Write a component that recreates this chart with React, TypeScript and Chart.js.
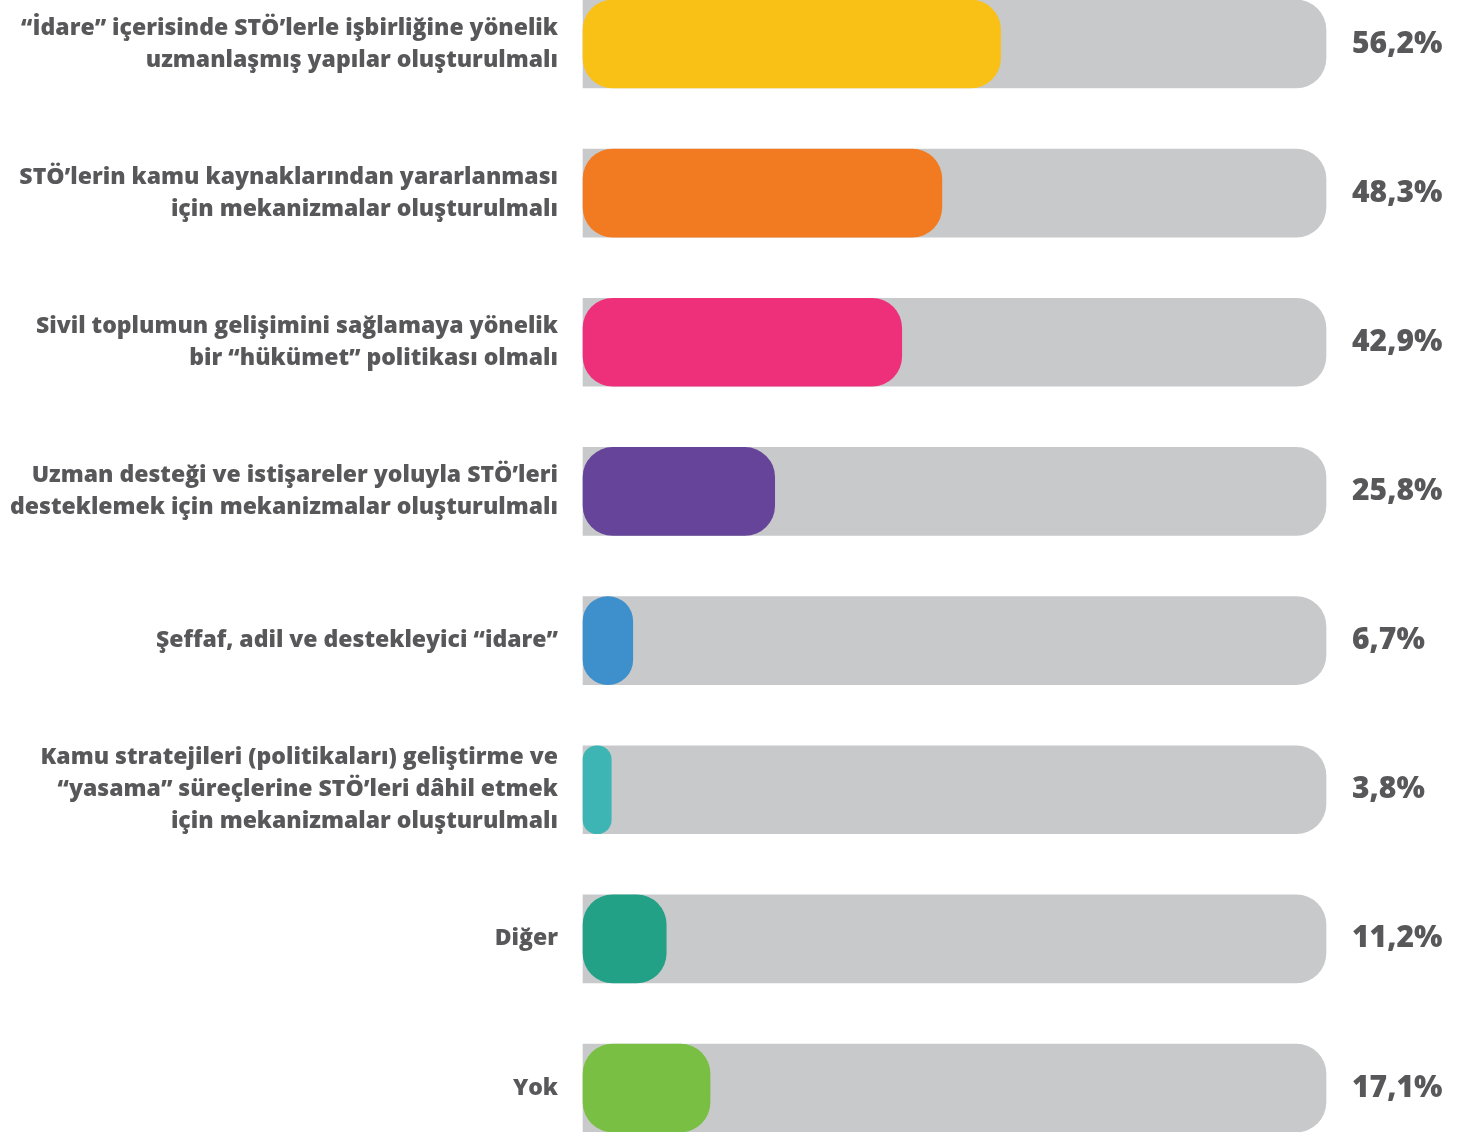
import React, { useEffect, useRef } from "react";
import { Chart, registerables } from "chart.js";

Chart.register(...registerables);

const categories: string[][] = [
  ["“İdare” içerisinde STÖ’lerle işbirliğine yönelik", "uzmanlaşmış yapılar oluşturulmalı"],
  ["STÖ’lerin kamu kaynaklarından yararlanması", "için mekanizmalar oluşturulmalı"],
  ["Sivil toplumun gelişimini sağlamaya yönelik", "bir “hükümet” politikası olmalı"],
  ["Uzman desteği ve istişareler yoluyla STÖ’leri", "desteklemek için mekanizmalar oluşturulmalı"],
  ["Şeffaf, adil ve destekleyici “idare”"],
  ["Kamu stratejileri (politikaları) geliştirme ve", "“yasama” süreçlerine STÖ’leri dâhil etmek", "için mekanizmalar oluşturulmalı"],
  ["Diğer"],
  ["Yok"],
];

const values: number[] = [56.2, 48.3, 42.9, 25.8, 6.7, 3.8, 11.2, 17.1];
const valueLabels: string[] = ["56,2%", "48,3%", "42,9%", "25,8%", "6,7%", "3,8%", "11,2%", "17,1%"];
const trackValues: number[] = [100, 100, 100, 100, 100, 100, 100, 100];

const barColors = ["#F9C116", "#F27B22", "#EE307A", "#664499", "#3D90CC", "#3DB5B4", "#23A187", "#78BF43"];
const trackColor = "#C8C9CB";
const textColor = "#58585A";
const fontFamily = "'Open Sans', Lato, sans-serif";

const valueLabelPlugin = {
  id: "valueLabels",
  afterDatasetsDraw(chart: any) {
    const ctx = chart.ctx;
    const meta = chart.getDatasetMeta(0);
    const xScale = chart.scales.x;
    ctx.save();
    ctx.fillStyle = textColor;
    ctx.font = `800 30px ${fontFamily}`;
    ctx.textAlign = "left";
    ctx.textBaseline = "middle";
    meta.data.forEach((el: any, i: number) => {
      ctx.fillText(valueLabels[i], xScale.getPixelForValue(100) + 26, el.y);
    });
    ctx.restore();
  },
};

export default function App() {
  const ref = useRef<HTMLCanvasElement | null>(null);
  useEffect(() => {
    document.body.style.margin = "0";
    const chart = new Chart(ref.current as HTMLCanvasElement, {
      type: "bar",
      data: {
        labels: categories,
        datasets: [
          {
            data: values,
            backgroundColor: barColors,
            borderRadius: 30,
            borderSkipped: false,
            barThickness: 88,
            grouped: false,
            clip: false,
          } as any,
          {
            data: trackValues,
            backgroundColor: trackColor,
            borderRadius: { topLeft: 0, bottomLeft: 0, topRight: 30, bottomRight: 30 },
            borderSkipped: false,
            barThickness: 88,
            grouped: false,
            clip: false,
          } as any,
        ],
      },
      options: {
        indexAxis: "y",
        animation: false,
        responsive: false,
        devicePixelRatio: 1,
        layout: { padding: { top: 44, bottom: 44, left: 0, right: 135 } },
        plugins: { legend: { display: false }, tooltip: { enabled: false } },
        scales: {
          x: { display: false, min: 0, max: 100 },
          y: {
            offset: false,
            grid: { display: false, drawTicks: false },
            border: { display: false },
            afterFit: (scale: any) => {
              scale.width = 583;
              scale.paddingTop = 0;
              scale.paddingBottom = 0;
            },
            ticks: {
              padding: 25,
              color: textColor,
              font: { family: fontFamily, size: 23, weight: "800" as any, lineHeight: 1.39 },
            },
          },
        },
      },
      plugins: [valueLabelPlugin],
    });
    return () => chart.destroy();
  }, []);
  return (
    <div style={{ position: "absolute", left: 0, top: 0, width: 1461, height: 1132 }}>
      <canvas ref={ref} width={1461} height={1132} />
    </div>
  );
}
